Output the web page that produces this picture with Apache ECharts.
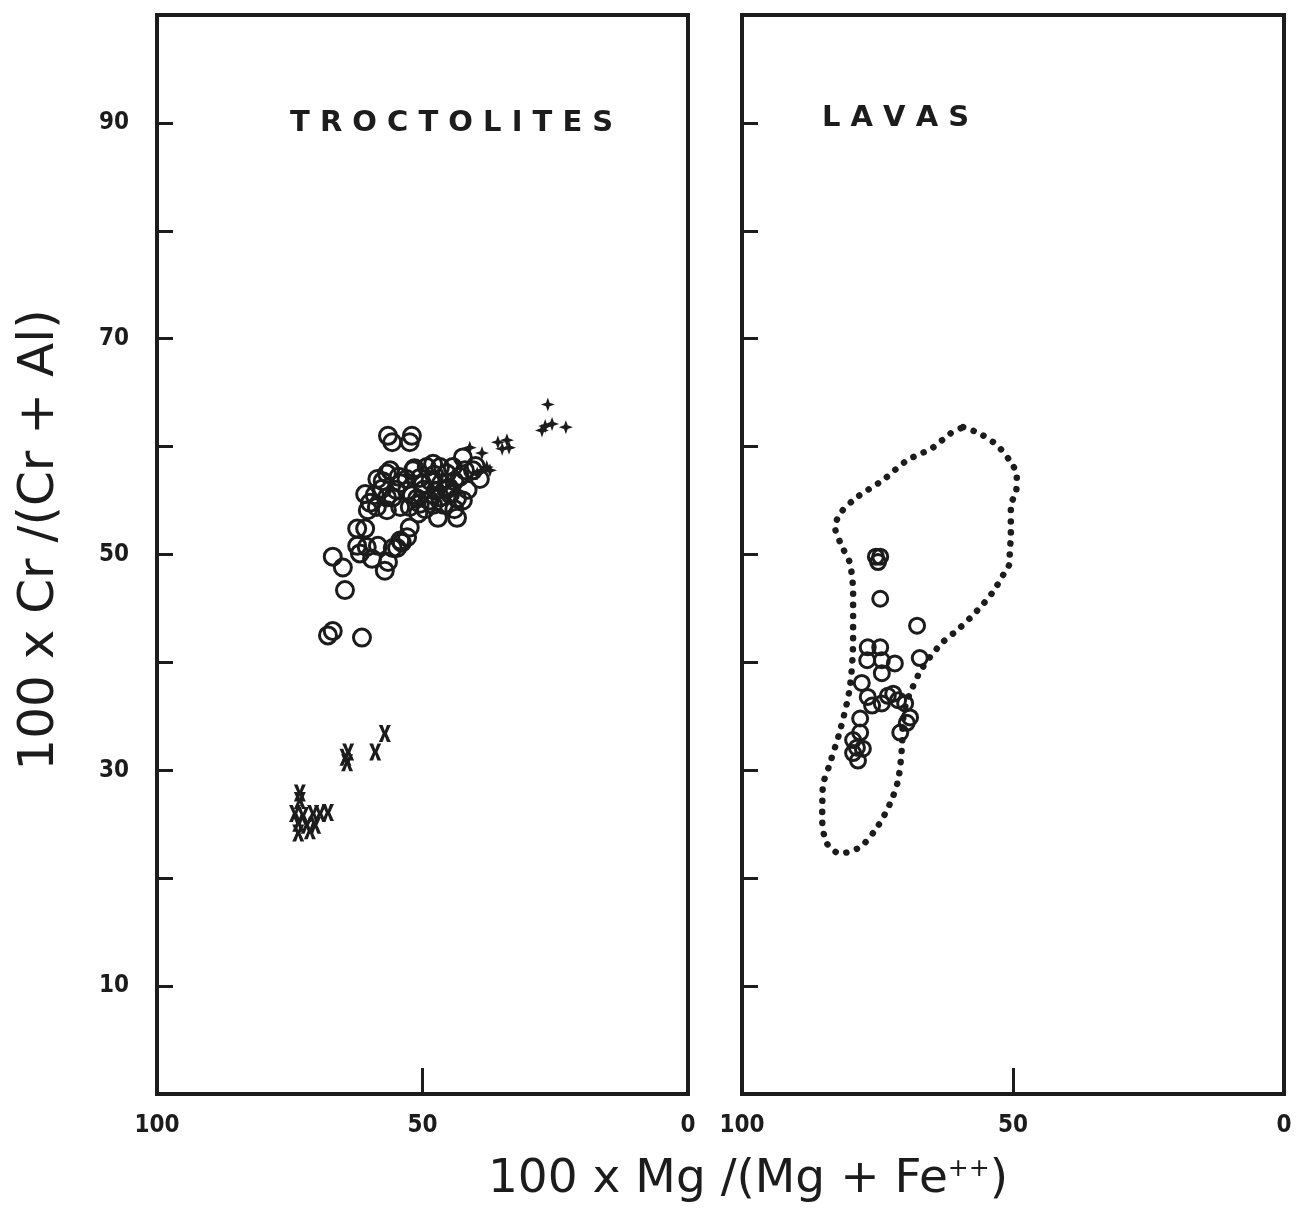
<!DOCTYPE html>
<html>
<head>
<meta charset="utf-8">
<script src="https://cdn.jsdelivr.net/npm/echarts@6/dist/echarts.min.js"></script>
<style>
  html, body { margin: 0; padding: 0; background: #fff; }
  #main { width: 1302px; height: 1216px; }
</style>
</head>
<body>
<div id="main"></div>
<script>
// 刻度
var xTicks = [100, 50, 0]
var yTickLabels = [10, 30, 50, 70, 90]

// TROCTOLITES - 圆圈
var troctCircleX = [56.5, 55.7, 52.0, 52.4, 56.1, 56.7, 60.8, 59.9, 60.3, 57.6, 56.7, 54.2, 52.9, 51.8, 50.5,
  49.2, 48.0, 46.7, 45.4, 44.3, 42.4, 40.5, 39.2, 52.4, 50.5, 48.6, 46.7, 44.8, 43.5, 42.4, 47.1, 43.5,
  55.6, 54.2, 58.6, 56.7, 52.4, 62.3, 60.8, 62.3, 60.5, 58.4, 55.6, 54.2, 52.9, 66.9, 65.0, 64.6, 67.8,
  66.9, 61.4, 57.1, 56.5, 54.8, 53.9, 59.5, 61.8, 50.0, 48.5, 47.5, 45.0, 46.0, 49.5, 51.0, 53.0, 44.0,
  41.5, 43.0, 47.8, 49.8, 52.0, 55.0, 57.5, 59.0, 45.5, 48.0, 50.8, 42.0, 40.0, 58.5, 54.5, 51.5, 46.5, 44.0]
var troctCircleY = [61.0, 60.4, 61.0, 60.4, 57.8, 57.5, 55.6, 54.8, 54.1, 56.1, 55.3, 56.6, 55.9, 57.8, 57.1,
  58.1, 58.4, 58.1, 57.5, 58.1, 59.0, 57.8, 57.0, 54.4, 54.7, 55.0, 55.3, 55.6, 55.2, 55.0, 53.4, 53.4,
  55.3, 54.4, 54.4, 54.1, 52.5, 52.4, 52.4, 50.8, 50.7, 50.8, 50.6, 51.3, 51.6, 49.8, 48.8, 46.7, 42.5,
  42.9, 42.3, 48.5, 49.3, 50.6, 51.1, 49.6, 50.1, 56.5, 56.8, 55.9, 56.2, 54.6, 54.2, 55.2, 57.0, 56.8,
  56.0, 57.2, 57.4, 56.0, 55.5, 56.0, 56.8, 55.5, 56.0, 54.6, 53.8, 57.8, 58.2, 57.0, 57.2, 58.0, 56.6, 54.2]

// TROCTOLITES - 十字星
var troctPlusX = [26.4, 27.5, 26.9, 25.6, 23.0, 35.8, 34.1, 35.0, 33.7, 41.1, 38.8, 37.9, 37.3, 39.7]
var troctPlusY = [63.9, 61.5, 61.9, 62.1, 61.8, 60.4, 60.6, 59.8, 59.9, 59.9, 59.4, 58.1, 57.8, 57.5]

// TROCTOLITES - X
var troctCrossX = [57.1, 58.9, 64.0, 64.2, 64.5, 73.1, 73.1, 74.0, 72.5, 70.6, 69.3, 67.8, 73.4, 71.8, 70.2, 73.4, 71.2]
var troctCrossY = [33.4, 31.7, 31.7, 30.7, 31.2, 27.9, 27.2, 26.0, 25.8, 26.0, 26.0, 26.1, 25.1, 24.9, 24.9, 24.2, 24.4]

// LAVAS - 圆圈
var lavaCircleX = [75.3, 74.5, 74.9, 74.5, 67.7, 76.8, 74.5, 76.9, 74.2, 74.2, 71.8, 67.2, 77.9, 76.8, 76.0,
  74.2, 73.1, 72.1, 71.2, 69.9, 69.0, 69.6, 70.8, 78.2, 78.2, 79.5, 78.8, 77.7, 78.6, 79.5]
var lavaCircleY = [49.8, 49.8, 49.3, 45.9, 43.4, 41.4, 41.4, 40.2, 40.2, 39.0, 39.9, 40.4, 38.1, 36.8, 36.0,
  36.2, 36.9, 37.1, 36.5, 36.2, 34.9, 34.4, 33.5, 34.8, 33.5, 32.8, 32.1, 32.0, 30.9, 31.6]

// LAVAS - 点线轮廓
var outlineX = [59.2, 56.1, 52.9, 50.2, 49.3, 49.4, 50.4, 50.4, 50.4, 50.6, 50.6, 51.7, 53.9, 56.6, 59.8,
  62.9, 65.3, 67.2, 68.6, 69.7, 70.3, 70.5, 71.2, 72.7, 75.1, 78.2, 81.9, 84.3, 85.2, 85.1, 83.8, 81.9,
  80.1, 79.5, 79.5, 80.1, 81.4, 82.8, 81.9, 78.8, 74.0, 69.6, 64.8, 61.6, 59.2]
var outlineY = [61.8, 61.2, 60.1, 58.4, 57.3, 55.9, 54.5, 52.5, 51.5, 50.4, 49.3, 48.2, 46.4, 44.8, 43.2,
  41.9, 40.5, 39.1, 37.6, 36.2, 34.6, 32.1, 29.1, 26.9, 24.7, 22.9, 22.3, 23.2, 25.4, 28.4, 30.6, 33.7,
  37.7, 42.3, 46.4, 49.2, 50.6, 52.5, 53.8, 55.3, 56.9, 58.7, 59.9, 61.2, 61.8]

function zip(xs, ys) {
  return xs.map(function (x, i) { return [x, ys[i]] })
}

var ink = '#1c1c1c'
var tickFont = { fontFamily: 'DejaVu Sans Condensed', fontWeight: 'bold', fontSize: 24, color: ink }
var plusPath = 'path://M5,0 L6.3,3.7 L10,5 L6.3,6.3 L5,10 L3.7,6.3 L0,5 L3.7,3.7 Z'
var crossPath = 'path://M0,0 L3.2,0 L5,4.2 L6.8,0 L10,0 L6.8,6 L10,12 L6.8,12 L5,7.8 L3.2,12 L0,12 L3.2,6 Z'

function xAxisOf(grid) {
  return {
    gridIndex: grid, type: 'value', min: 0, max: 100, interval: 50, inverse: true,
    axisLine: { show: true, onZero: false, lineStyle: { color: ink, width: 4 } },
    axisTick: { show: true, inside: true, length: 26, lineStyle: { color: ink, width: 3 } },
    axisLabel: Object.assign({ margin: 20 }, tickFont),
    splitLine: { show: false }
  }
}

function yAxisOf(grid, showLabel) {
  return {
    gridIndex: grid, type: 'value', min: 0, max: 100, interval: 10, position: 'left',
    axisLine: { show: true, onZero: false, lineStyle: { color: ink, width: 4 } },
    axisTick: { show: true, inside: true, length: 16, lineStyle: { color: ink, width: 3 } },
    axisLabel: Object.assign({
      show: showLabel, margin: 28,
      formatter: function (v) { return yTickLabels.indexOf(v) >= 0 ? String(v) : '' }
    }, tickFont),
    splitLine: { show: false }
  }
}

var circleStyle = { color: 'rgba(0,0,0,0)', borderColor: ink, borderWidth: 3, opacity: 1 }
var solidStyle = { color: ink, opacity: 1 }

var chart = echarts.init(document.getElementById('main'))
chart.setOption({
  backgroundColor: '#fff',
  animation: false,
  grid: [
    { left: 157, top: 15, width: 531, height: 1079, show: true, borderColor: ink, borderWidth: 4 },
    { left: 742, top: 15, width: 542, height: 1079, show: true, borderColor: ink, borderWidth: 4 }
  ],
  xAxis: [xAxisOf(0), xAxisOf(1)],
  yAxis: [yAxisOf(0, true), yAxisOf(1, false)],
  graphic: [
    { type: 'text', left: 290, top: 109, style: { text: 'T R O C T O L I T E S', fill: ink,
      font: 'bold 29px "DejaVu Sans"' } },
    { type: 'text', left: 822, top: 104, style: { text: 'L A V A S', fill: ink,
      font: 'bold 29px "DejaVu Sans"' } },
    { type: 'text', x: 40, y: 540, rotation: Math.PI / 2, style: {
      text: '100 x Cr /(Cr + Al)', fill: ink, font: '50px "DejaVu Sans"',
      align: 'center', verticalAlign: 'middle' } },
    { type: 'text', x: 748, y: 1180, style: {
      text: '{n|100 x Mg /(Mg + Fe}{s|++}{n|)}', align: 'center', verticalAlign: 'middle',
      rich: {
        n: { fill: ink, font: '47px "DejaVu Sans"' },
        s: { fill: ink, font: '25px "DejaVu Sans"', verticalAlign: 'top', padding: [0, 0, 22, 0] }
      } } }
  ],
  series: [
    {
      name: 'outline', type: 'line', xAxisIndex: 1, yAxisIndex: 1, smooth: 0.3, symbol: 'none',
      data: zip(outlineX, outlineY),
      lineStyle: { color: ink, width: 6.5, type: [0.1, 11], cap: 'round', opacity: 1 }
    },
    {
      name: 'troct-circle', type: 'scatter', xAxisIndex: 0, yAxisIndex: 0, symbol: 'circle', symbolSize: 17,
      data: zip(troctCircleX, troctCircleY), itemStyle: circleStyle
    },
    {
      name: 'troct-plus', type: 'scatter', xAxisIndex: 0, yAxisIndex: 0, symbol: plusPath, symbolSize: 14,
      data: zip(troctPlusX, troctPlusY), itemStyle: solidStyle
    },
    {
      name: 'troct-cross', type: 'scatter', xAxisIndex: 0, yAxisIndex: 0, symbol: crossPath, symbolSize: [12, 17],
      data: zip(troctCrossX, troctCrossY), itemStyle: solidStyle
    },
    {
      name: 'lava-circle', type: 'scatter', xAxisIndex: 1, yAxisIndex: 1, symbol: 'circle', symbolSize: 15,
      data: zip(lavaCircleX, lavaCircleY), itemStyle: circleStyle
    }
  ]
})
</script>
</body>
</html>
